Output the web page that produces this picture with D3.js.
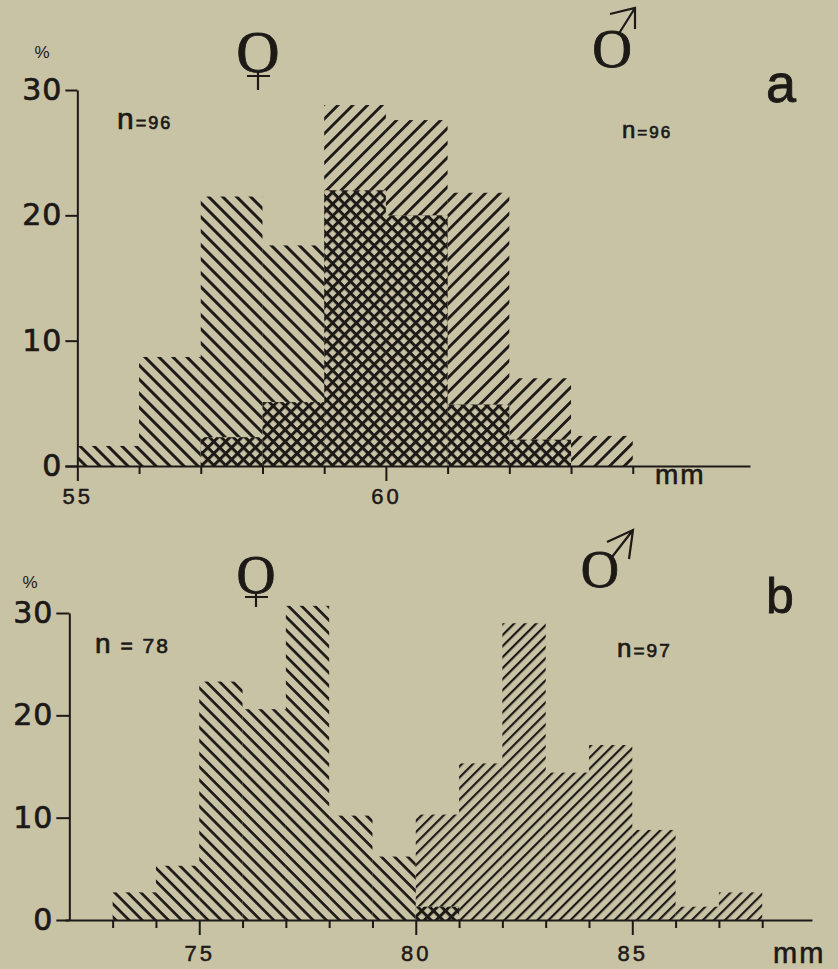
<!DOCTYPE html>
<html>
<head>
<meta charset="utf-8">
<script src="https://cdn.jsdelivr.net/npm/d3@7"></script>
<style>
  html, body { margin: 0; padding: 0; background: #c9c3a6; }
  svg { display: block; }
</style>
</head>
<body>
<svg id="chart" width="838" height="969"></svg>
<script>
// panel a (bins are 1 mm wide, value = start of bin), n = 96 / 96
var binsFemaleA = [55, 56, 57, 58, 59, 60, 61, 62];
var pctFemaleA  = [1.6, 8.7, 21.5, 17.6, 22.0, 20.0, 4.9, 2.1];
var binsMaleA   = [57, 58, 59, 60, 61, 62, 63];
var pctMaleA    = [2.3, 5.1, 28.8, 27.6, 21.8, 7.0, 2.4];

// panel b, n = 78 / 97
var binsFemaleB = [73, 74, 75, 76, 77, 78, 79, 80];
var pctFemaleB  = [2.7, 5.3, 23.3, 20.6, 30.7, 10.2, 6.2, 1.3];
var binsMaleB   = [80, 81, 82, 83, 84, 85, 86, 87];
var pctMaleB    = [10.3, 15.3, 29.0, 14.4, 17.1, 8.8, 1.3, 2.7];

var yTicks   = [0, 10, 20, 30];
var xTicksA  = [55, 56, 57, 58, 59, 60, 61, 62, 63, 64];
var xLabelsA = [55, 60];
var xTicksB  = [73, 74, 75, 76, 77, 78, 79, 80, 81, 82, 83, 84, 85, 86, 87, 88];
var xLabelsB = [75, 80, 85];

var ink = "#1c1916",
    paper = "#c9c3a6";

var svg = d3.select("#chart");
var defs = svg.append("defs");

svg.append("rect").attr("width", 838).attr("height", 969).attr("fill", paper);

// hatch patterns: period p (perpendicular), line width w
function hatch(id, p, w, angle) {
  var pat = defs.append("pattern")
      .attr("id", id)
      .attr("patternUnits", "userSpaceOnUse")
      .attr("width", p).attr("height", p)
      .attr("patternTransform", "rotate(" + angle + ")");
  pat.append("rect").attr("width", p).attr("height", w).attr("fill", ink);
}
function cross(id, p, w) {
  var pat = defs.append("pattern")
      .attr("id", id)
      .attr("patternUnits", "userSpaceOnUse")
      .attr("width", p).attr("height", p)
      .attr("patternTransform", "rotate(45)");
  pat.append("rect").attr("width", p).attr("height", w).attr("fill", ink);
  pat.append("rect").attr("width", w).attr("height", p).attr("fill", ink);
}
hatch("fA", 9.9, 3, 45);
hatch("mA", 10.4, 2.8, -45);
hatch("fB", 9.3, 2.7, 45);
hatch("mB", 7.8, 2.2, -45);
cross("xA", 8.4, 3);
cross("xB", 8.4, 3);

var sans = "'Liberation Sans', Arial, sans-serif";

function panel(cfg) {
  var x = d3.scaleLinear().domain(cfg.xDomain).range(cfg.xRange);
  var y = d3.scaleLinear().domain([0, 30]).range(cfg.yRange);
  var g = svg.append("g");

  var fem = cfg.fBins.map(function(b, i) { return { b: b, v: cfg.fPct[i] }; });
  var mal = cfg.mBins.map(function(b, i) { return { b: b, v: cfg.mPct[i] }; });
  // overlap = both sexes present in the same bin
  var both = [];
  fem.forEach(function(f) {
    mal.forEach(function(m) {
      if (m.b === f.b) both.push({ b: f.b, v: Math.min(f.v, m.v) });
    });
  });

  function bars(data, fill) {
    g.append("g").selectAll("rect")
      .data(data)
      .join("rect")
        .attr("x", function(d) { return x(d.b); })
        .attr("width", function(d) { return x(d.b + 1) - x(d.b); })
        .attr("y", function(d) { return y(d.v); })
        .attr("height", function(d) { return y(0) - y(d.v); })
        .attr("fill", fill);
  }
  bars(fem, "url(#" + cfg.fPat + ")");
  bars(mal, "url(#" + cfg.mPat + ")");
  bars(both, paper);
  bars(both, "url(#" + cfg.xPat + ")");

  // y axis
  var yAxis = g.append("g")
      .attr("transform", "translate(" + x(cfg.yAxisAt) + ",0)")
      .call(d3.axisLeft(y).tickValues(yTicks).tickSize(cfg.yTickSize).tickPadding(3).tickSizeOuter(0));
  yAxis.select(".domain").attr("stroke", ink).attr("stroke-width", 2);
  yAxis.selectAll(".tick line").attr("stroke", ink).attr("stroke-width", 2);
  yAxis.selectAll(".tick text")
      .attr("fill", ink)
      .attr("stroke", ink).attr("stroke-width", 0.7)
      .style("font-family", "'DejaVu Sans', sans-serif")
      .style("font-size", "30px")
      .style("letter-spacing", "1px");

  // x axis
  var xAxis = g.append("g")
      .attr("transform", "translate(0," + y(0) + ")")
      .call(d3.axisBottom(x).tickValues(cfg.xTicks).tickSize(8).tickSizeOuter(0)
        .tickFormat(function(d) { return cfg.xLabels.indexOf(d) >= 0 ? d : ""; }));
  xAxis.select(".domain").attr("stroke", ink).attr("stroke-width", 2);
  xAxis.selectAll(".tick line").attr("stroke", ink).attr("stroke-width", 2)
      .attr("y2", function(d) { return cfg.xLabels.indexOf(d) >= 0 ? 15 : 8; });
  xAxis.selectAll(".tick text")
      .attr("fill", ink)
      .attr("stroke", ink).attr("stroke-width", 0.5)
      .attr("y", cfg.xLabelY)
      .style("font-family", sans)
      .style("font-size", "22px")
      .style("letter-spacing", "3px");

  // small texts
  g.append("text")
      .attr("x", cfg.pct[0]).attr("y", cfg.pct[1])
      .attr("text-anchor", "middle")
      .attr("fill", ink)
      .style("font-family", sans)
      .style("font-size", "17px")
      .text("%");
  g.append("text")
      .attr("x", cfg.mm[0]).attr("y", cfg.mm[1])
      .attr("fill", ink)
      .attr("stroke", ink).attr("stroke-width", 0.6)
      .style("font-family", sans)
      .style("font-size", cfg.mm[2] + "px")
      .style("letter-spacing", "2px")
      .text("mm");
  g.append("text")
      .attr("x", cfg.letter[0]).attr("y", cfg.letter[1])
      .attr("fill", ink)
      .attr("stroke", ink).attr("stroke-width", 0.8)
      .style("font-family", sans)
      .style("font-size", cfg.letter[2] + "px")
      .text(cfg.letter[3]);

  cfg.n.forEach(function(n) {
    var t = g.append("text")
        .attr("x", n.x).attr("y", n.y)
        .attr("fill", ink)
        .attr("stroke", ink).attr("stroke-width", 0.7)
        .style("font-family", sans);
    t.append("tspan").style("font-size", n.big + "px").text("n");
    t.append("tspan").attr("dx", 2).style("font-size", n.small + "px")
        .style("letter-spacing", "2px").text(n.rest);
  });

  // sex symbols: a serif O with a cross or an arrow
  var f = cfg.female;
  g.append("text")
      .attr("x", f.cx).attr("y", f.base)
      .attr("text-anchor", "middle")
      .attr("fill", ink)
      .attr("stroke", ink).attr("stroke-width", 0.8)
      .style("font-family", "'Liberation Serif', 'Times New Roman', serif")
      .style("font-size", f.size + "px")
      .text("O");
  g.append("path")
      .attr("d", "M" + f.cx + "," + (f.base - 1) + "V" + (f.base + f.stem) +
                 "M" + (f.cx - 11) + "," + (f.base + 4) + "H" + (f.cx + 12))
      .attr("stroke", ink).attr("stroke-width", 2.2).attr("fill", "none");

  var m = cfg.male;
  g.append("text")
      .attr("x", m.cx).attr("y", m.base)
      .attr("text-anchor", "middle")
      .attr("fill", ink)
      .attr("stroke", ink).attr("stroke-width", 0.8)
      .style("font-family", "'Liberation Serif', 'Times New Roman', serif")
      .style("font-size", m.size + "px")
      .text("O");
  g.append("path")
      .attr("d", "M" + m.from + "L" + m.tip + "M" + m.barb1 + "L" + m.tip + "L" + m.barb2)
      .attr("stroke", ink).attr("stroke-width", 2.2).attr("fill", "none")
      .attr("stroke-linejoin", "miter");
}

panel({
  xDomain: [54.8, 65.9], xRange: [65, 750], yRange: [466, 90],
  fBins: binsFemaleA, fPct: pctFemaleA, mBins: binsMaleA, mPct: pctMaleA,
  fPat: "fA", mPat: "mA", xPat: "xA",
  xTicks: xTicksA, xLabels: xLabelsA, xLabelY: 22,
  yAxisAt: 55, yTickSize: 12,
  pct: [42, 58], mm: [655, 484, 28], letter: [766, 102, 54, "a"],
  n: [{ x: 117, y: 129, big: 30, small: 18, rest: "=96" },
      { x: 622, y: 138, big: 24, small: 17, rest: "=96" }],
  female: { cx: 258, base: 72, size: 60, stem: 18 },
  male: { cx: 612, base: 67, size: 55, from: "618,35", tip: "635,8", barb1: "610,14", barb2: "635,29" }
});

panel({
  xDomain: [71.9, 89.15], xRange: [65, 812], yRange: [920, 613],
  fBins: binsFemaleB, fPct: pctFemaleB, mBins: binsMaleB, mPct: pctMaleB,
  fPat: "fB", mPat: "mB", xPat: "xB",
  xTicks: xTicksB, xLabels: xLabelsB, xLabelY: 25,
  yAxisAt: 72, yTickSize: 13,
  pct: [30, 588], mm: [773, 963, 29], letter: [766, 613, 50, "b"],
  n: [{ x: 95, y: 653, big: 28, small: 21, rest: " = 78" },
      { x: 617, y: 657, big: 26, small: 19, rest: "=97" }],
  female: { cx: 256, base: 593, size: 54, stem: 14 },
  male: { cx: 600, base: 587, size: 53, from: "612,557", tip: "633,530", barb1: "607,542", barb2: "629,559" }
});
</script>
</body>
</html>
